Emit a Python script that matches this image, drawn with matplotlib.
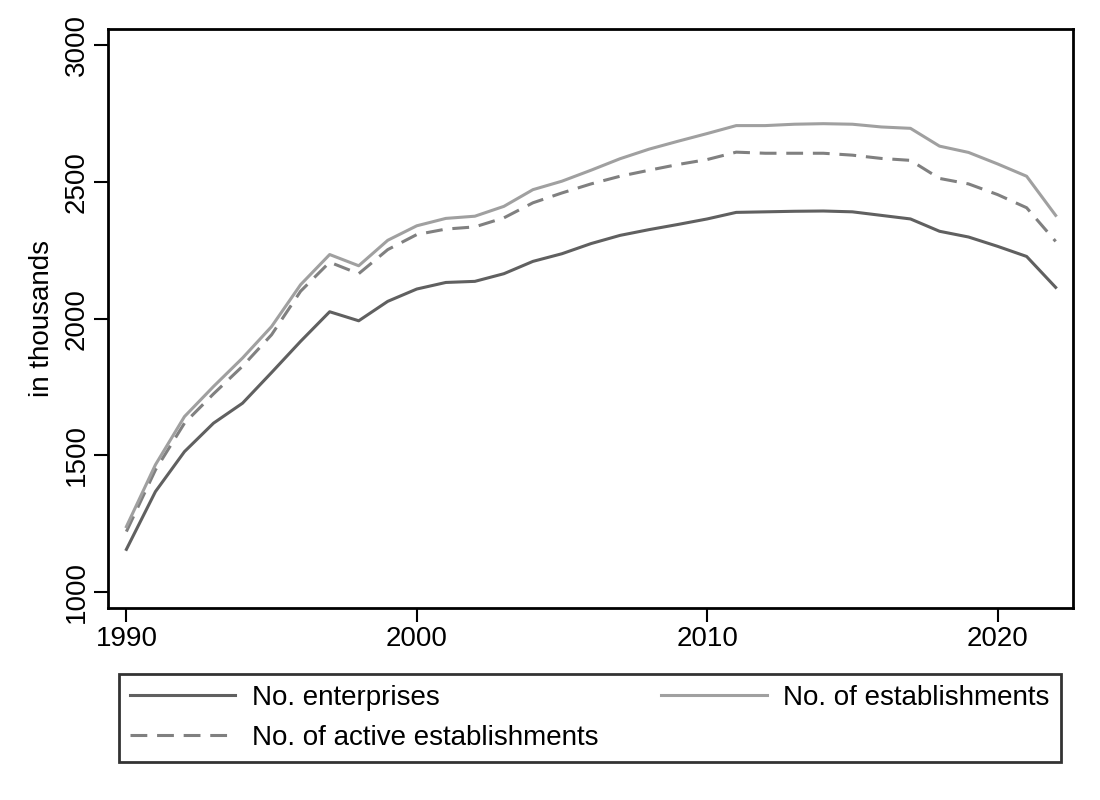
import matplotlib
matplotlib.use("Agg")
import matplotlib.pyplot as plt

plt.rcParams['font.family'] = ['Liberation Sans', 'DejaVu Sans']

years = list(range(1990, 2023))

# values in thousands
enterprises = [1157, 1368, 1514, 1618, 1691, 1803, 1917, 2025, 1992, 2063,
               2108, 2132, 2136, 2164, 2209, 2237, 2274, 2304, 2325, 2344,
               2364, 2388, 2390, 2392, 2393, 2390, 2377, 2364, 2319, 2298,
               2264, 2227, 2114]
establishments = [1240, 1466, 1642, 1752, 1856, 1971, 2124, 2234, 2193, 2286,
                  2339, 2366, 2374, 2410, 2471, 2502, 2542, 2584, 2619, 2648,
                  2676, 2705, 2705, 2710, 2712, 2710, 2700, 2695, 2630, 2607,
                  2565, 2520, 2377]
active = [1222, 1447, 1618, 1725, 1826, 1941, 2100, 2206, 2164, 2252,
          2307, 2327, 2335, 2368, 2423, 2459, 2492, 2520, 2542, 2563,
          2581, 2608, 2604, 2604, 2604, 2597, 2585, 2578, 2512, 2492,
          2453, 2405, 2282]

x_ticks = [1990, 2000, 2010, 2020]
y_ticks = [1000, 1500, 2000, 2500, 3000]

fig = plt.figure(figsize=(11, 8), dpi=100)
ax = fig.add_axes([0.098, 0.2404, 0.877, 0.7234])

lw = 2.2
l1, = ax.plot(years, enterprises, color='#606060', lw=lw, label='No. enterprises')
l3, = ax.plot(years, active, color='#808080', lw=lw, dashes=(5.5, 3.2),
              label='No. of active establishments')
l2, = ax.plot(years, establishments, color='#a0a0a0', lw=lw,
              label='No. of establishments')

ax.set_xlim(1989.36, 2022.58)
ax.set_ylim(944, 3058)
ax.set_xticks(x_ticks)
ax.set_yticks(y_ticks)
ax.set_ylabel("in thousands", fontsize=20, labelpad=6)

for s in ax.spines.values():
    s.set_linewidth(2)
ax.tick_params(axis='both', length=10, width=1.5, labelsize=20, pad=3)
for lab in ax.get_yticklabels():
    lab.set_rotation(90)
    lab.set_va('center')

# legend order: col 1 = enterprises / active, col 2 = establishments
leg = fig.legend(handles=[l1, l3, l2], loc='lower left', ncol=2,
                 bbox_to_anchor=(0.108, 0.0475, 0.8565, 0.1125), mode='expand',
                 fontsize=20, frameon=True, fancybox=False, edgecolor='black',
                 handlelength=3.8, handletextpad=0.6, labelspacing=0.5,
                 borderaxespad=0, borderpad=0.4, columnspacing=2)
leg.get_frame().set_linewidth(2)

fig.savefig("out.png", dpi=100, facecolor='white')
